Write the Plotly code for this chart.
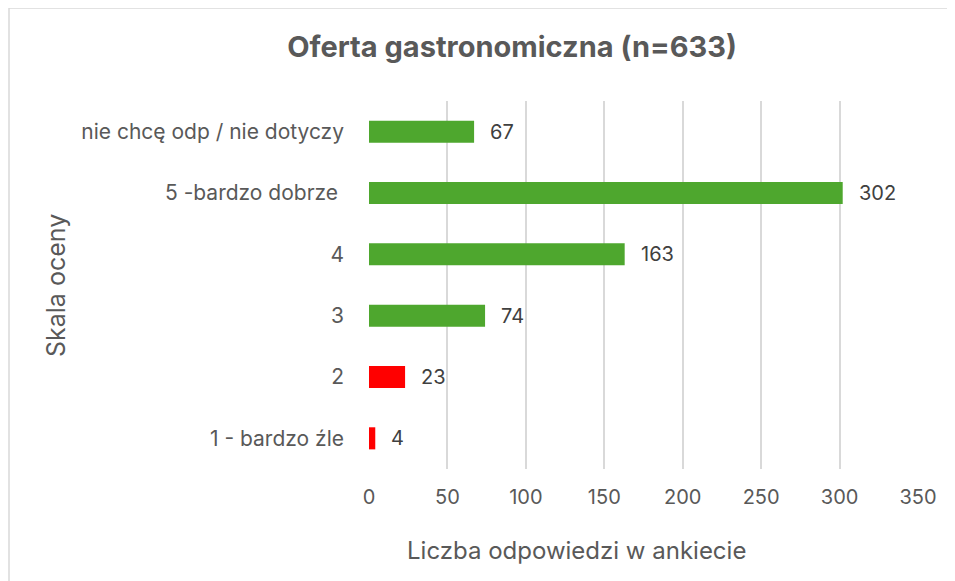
import plotly.graph_objects as go

categories = ["1 - bardzo źle", "2", "3", "4", "5 -bardzo dobrze ", "nie chcę odp / nie dotyczy"]
values = [4, 23, 74, 163, 302, 67]
colors = ["#FF0000", "#FF0000", "#4EA72E", "#4EA72E", "#4EA72E", "#4EA72E"]
x_ticks = [0, 50, 100, 150, 200, 250, 300, 350]

# page has an 8px body margin; work in page pixels and subtract it
OFF = 8
W, H = 955 - OFF, 581 - OFF
L, R, T, B = 369 - OFF, 37, 101 - OFF, 112
pw, ph = W - L - R, H - T - B

def px(xp):
    return (xp - OFF - L) / pw

def py(yp):
    return 1 - (yp - OFF - T) / ph

font = "Inter, Open Sans, sans-serif"
txt = "#595959"

fig = go.Figure(go.Bar(
    y=categories, x=values, orientation="h",
    marker=dict(color=colors, line=dict(width=0)),
    width=0.36,
))

for i, v in enumerate(values):
    fig.add_annotation(x=v, y=i, text=str(v), showarrow=False, xanchor="left",
                       xshift=14, font=dict(family=font, size=20, color="#404040"))

fig.add_annotation(xref="paper", yref="paper", x=px(576), y=py(550),
                   xanchor="center", yanchor="middle",
                   text="Liczba odpowiedzi w ankiecie", showarrow=False,
                   font=dict(family=font, size=24, color=txt))
fig.add_annotation(xref="paper", yref="paper", x=px(56), y=py(286),
                   xanchor="center", yanchor="middle",
                   text="Skala oceny", textangle=-90, showarrow=False,
                   font=dict(family=font, size=25, color=txt))

fig.add_shape(type="rect", xref="paper", yref="paper",
              x0=px(9), x1=px(1100), y0=py(700), y1=py(8),
              line=dict(color="#D9D9D9", width=1.5), layer="below")

fig.update_layout(
    width=W, height=H,
    margin=dict(l=L, r=R, t=T, b=B),
    paper_bgcolor="white", plot_bgcolor="white",
    showlegend=False,
    title=dict(text="<b>Oferta gastronomiczna (n=633)</b>", x=(512 - OFF) / W, xanchor="center",
               y=1 - (47 - OFF) / H, yanchor="middle", xref="container", yref="container",
               font=dict(family=font, size=29, color=txt)),
    xaxis=dict(range=[0, 350], tickvals=x_ticks, showgrid=True, gridcolor="#D9D9D9",
               gridwidth=1.5, zeroline=False, showline=False, ticks="",
               ticklabelstandoff=14,
               tickfont=dict(family=font, size=20, color=txt)),
    yaxis=dict(type="category", categoryorder="array", categoryarray=categories,
               showgrid=False, zeroline=False, showline=False, ticks="",
               ticklabelstandoff=24,
               tickfont=dict(family=font, size=21, color=txt)),
)

fig.write_html("out.html")
